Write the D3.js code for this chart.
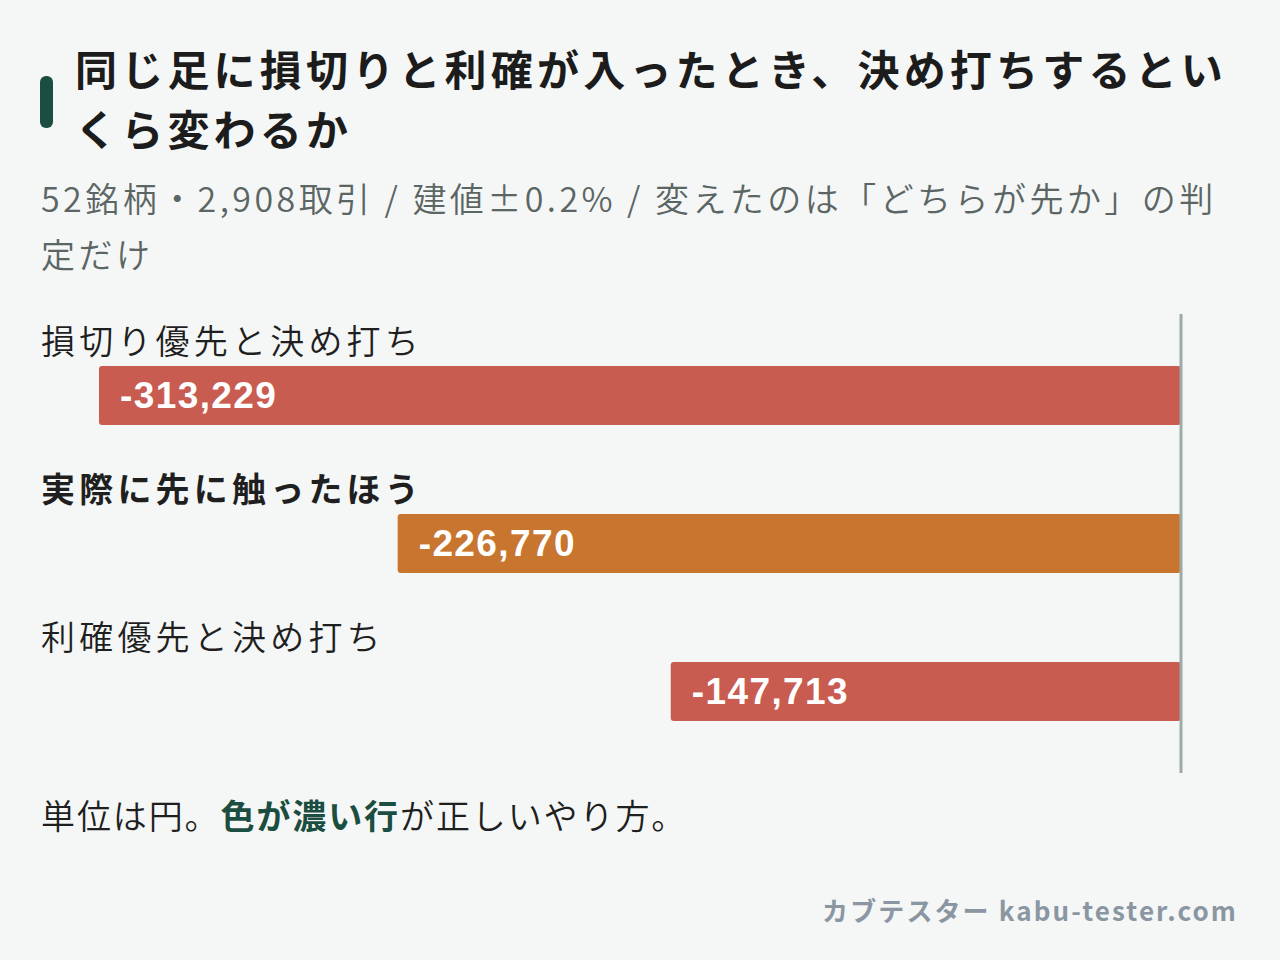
<!DOCTYPE html>
<html><head><meta charset="utf-8">
<script src="https://cdn.jsdelivr.net/npm/d3@7"></script>
<style>
html,body{margin:0;padding:0;background:#f5f7f6;}
svg{display:block;}
text{font-family:"Noto Sans CJK JP","Noto Sans",sans-serif;}
</style></head>
<body>
<svg id="chart" width="1280" height="960"></svg>
<script>
const categories = ["損切り優先と決め打ち", "実際に先に触ったほう", "利確優先と決め打ち"];
const values = [-313229, -226770, -147713];
const highlighted = [false, true, false];
const barColors = ["#c95c50", "#c8762f", "#c95c50"];
const titleLines = ["同じ足に損切りと利確が入ったとき、決め打ちするとい", "くら変わるか"];
const subtitleLines = ["52銘柄・2,908取引 / 建値±0.2% / 変えたのは「どちらが先か」の判", "定だけ"];
const notePlain1 = "単位は円。";
const noteBold = "色が濃い行";
const notePlain2 = "が正しいやり方。";
const credit = "カブテスター kabu-tester.com";

const svg = d3.select("#chart");
svg.append("rect").attr("width",1280).attr("height",960).attr("fill","#f5f7f6");

// title
svg.append("rect").attr("x",40).attr("y",76).attr("width",13).attr("height",52).attr("rx",6).attr("fill","#1b4d40");
const title = svg.append("text").attr("x",75).attr("font-size",42).attr("font-weight",700)
  .attr("fill","#1c1c1c").style("letter-spacing","4.2px");
titleLines.forEach((t,i)=>title.append("tspan").attr("x",75).attr("y",86+i*60).text(t));

const sub = svg.append("text").attr("font-size",34).attr("font-weight",350).attr("fill","#5b6664").style("letter-spacing","3.45px");
subtitleLines.forEach((t,i)=>sub.append("tspan").attr("x",41).attr("y",212+i*56).text(t));

// scales
const x = d3.scaleLinear().domain([d3.min(values),0]).range([99,1181]);
const y = d3.scaleBand().domain(categories).range([314,758]);

const rows = svg.append("g").selectAll("g").data(categories).join("g")
  .attr("transform",d=>`translate(0,${y(d)})`);

rows.append("text").attr("x",41).attr("y",40).attr("font-size",34)
  .attr("font-weight",(d,i)=>highlighted[i]?700:350)
  .attr("fill","#1f1f1f").style("letter-spacing","4.2px").text(d=>d);

rows.append("rect")
  .attr("x",(d,i)=>x(values[i])).attr("y",52)
  .attr("width",(d,i)=>x(0)-x(values[i])).attr("height",59).attr("rx",3)
  .attr("fill",(d,i)=>barColors[i]);

rows.append("text").attr("x",(d,i)=>x(values[i])+21).attr("y",94)
  .style("font-family","'Liberation Sans',Arial,sans-serif").attr("font-weight",700)
  .attr("font-size",37).attr("fill","#ffffff").style("letter-spacing","1.4px")
  .text((d,i)=>d3.format(",")(values[i]).replace("−","-"));

// zero line
svg.append("line").attr("x1",x(0)).attr("x2",x(0)).attr("y1",314).attr("y2",773)
  .attr("stroke","#9eaaa6").attr("stroke-width",3);

// note
const note = svg.append("text").attr("x",41).attr("y",829).attr("font-size",34).attr("font-weight",350)
  .attr("fill","#1f1f1f").style("letter-spacing","1.9px");
note.append("tspan").text(notePlain1);
note.append("tspan").attr("font-weight",700).attr("fill","#1b4d40").text(noteBold);
note.append("tspan").text(notePlain2);

svg.append("text").attr("x",1238).attr("y",921).attr("text-anchor","end")
  .attr("font-size",26).attr("font-weight",700).attr("fill","#8a96a2").style("letter-spacing","2.1px").text(credit);
</script>
</body></html>
